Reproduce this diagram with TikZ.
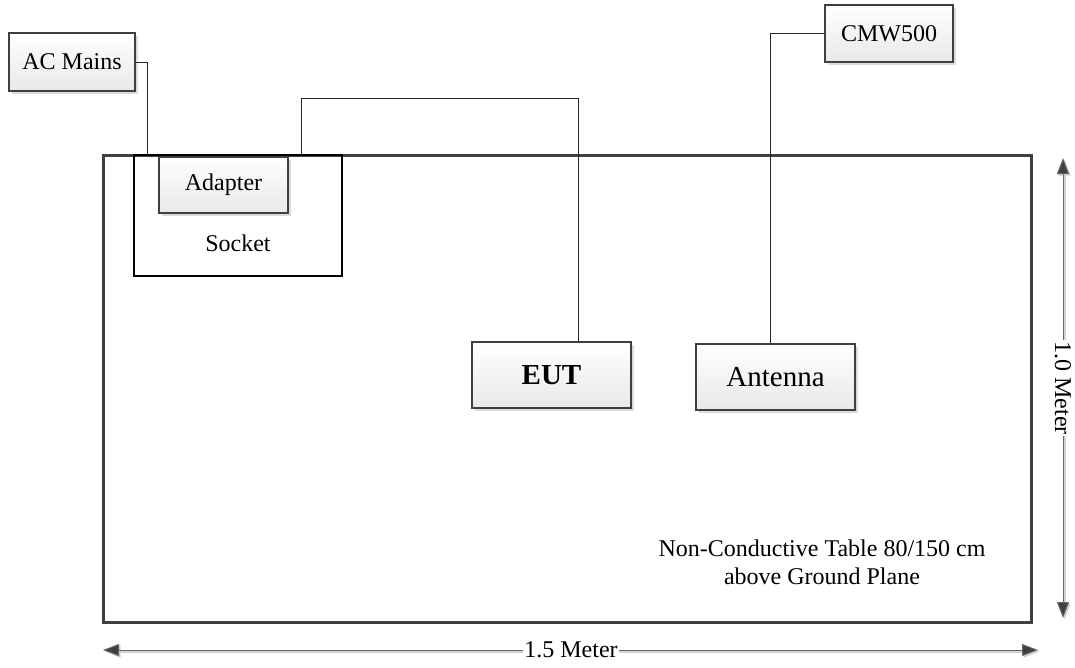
\documentclass[tikz,border=0pt]{standalone}
\usepackage{fontspec}
\setmainfont{Liberation Serif}
\usetikzlibrary{shadows,arrows.meta}
\definecolor{edge}{HTML}{404040}
\tikzset{
  box/.style={draw=edge, line width=2pt, top color=white, bottom color=gray!18,
    drop shadow={shadow xshift=3pt, shadow yshift=-3pt, fill=gray!35, opacity=0.8},
    inner sep=0pt, font=\fontsize{24}{27}\selectfont},
  bigbox/.style={box, font=\fontsize{29}{32}\selectfont},
  wire/.style={draw=black!85, line width=1pt},
  dim/.style={line width=1pt, draw=gray!80!black, {Triangle[length=16pt,width=12pt,fill=edge]}-{Triangle[length=16pt,width=12pt,fill=edge]}},
  dimshadow/.style={line width=2.5pt, draw=gray!35, {Triangle[length=16pt,width=12pt]}-{Triangle[length=16pt,width=12pt]}},
  txt/.style={font=\fontsize{24}{28}\selectfont, inner sep=1pt}
}
\begin{document}
\begin{tikzpicture}[x=1pt,y=1pt]
\useasboundingbox (0,0) rectangle (1075,-667);
% table
\node[draw=edge, line width=3pt, minimum width=928pt, minimum height=467pt, inner sep=0pt,
  drop shadow={shadow xshift=2pt, shadow yshift=-2pt, fill=gray!30}, fill=white] (table) at (567,-388.5) {};
% socket
\node[draw=black, line width=1.5pt, minimum width=208pt, minimum height=121pt, inner sep=0pt] (socket) at (238,-215.5) {};
\node[txt] (sockettxt) at (238,-243) {Socket};
% boxes
\node[box, minimum width=126pt, minimum height=58pt] (ac) at (72,-62) {AC Mains};
\node[box, minimum width=128pt, minimum height=57pt] (cmw) at (889,-33.5) {CMW500};
\node[box, minimum width=129pt, minimum height=56pt] (adapter) at (223.5,-185) {Adapter};
\node[bigbox, minimum width=159pt, minimum height=66pt] (eut) at (551.5,-375) {\textbf{EUT}};
\node[bigbox, minimum width=159pt, minimum height=66pt] (ant) at (775.5,-377) {Antenna};
% connectors
\coordinate (acin) at (147,-155);
\draw[wire] (ac.east) -| (acin);
\coordinate (adout) at (301,-155);
\coordinate (k1) at (578,-98);
\draw[wire] (adout) |- (k1) -- (k1 |- eut.north);
\coordinate (k2) at (770,-33.5);
\draw[wire] (cmw.west) -- (k2) -- (k2 |- ant.north);
% table text
\node[txt, align=center] (tabletxt) at (822,-562) {Non-Conductive Table 80/150 cm\\above Ground Plane};
% dimensions
\coordinate (h1) at (103,-650);
\coordinate (h2) at (1038,-650);
\draw[dimshadow] ([shift={(1.5,-1.5)}]h1) -- ([shift={(1.5,-1.5)}]h2);
\draw[dim] (h1) -- (h2);
\node[txt, fill=white] (hlabel) at (571,-650) {1.5 Meter};
\coordinate (v1) at (1063,-158);
\coordinate (v2) at (1063,-618);
\draw[dimshadow] ([shift={(1.5,-1.5)}]v1) -- ([shift={(1.5,-1.5)}]v2);
\draw[dim] (v1) -- (v2);
\node[txt, fill=white, rotate=-90] (vlabel) at (1063,-388) {1.0 Meter};
\end{tikzpicture}
\end{document}
